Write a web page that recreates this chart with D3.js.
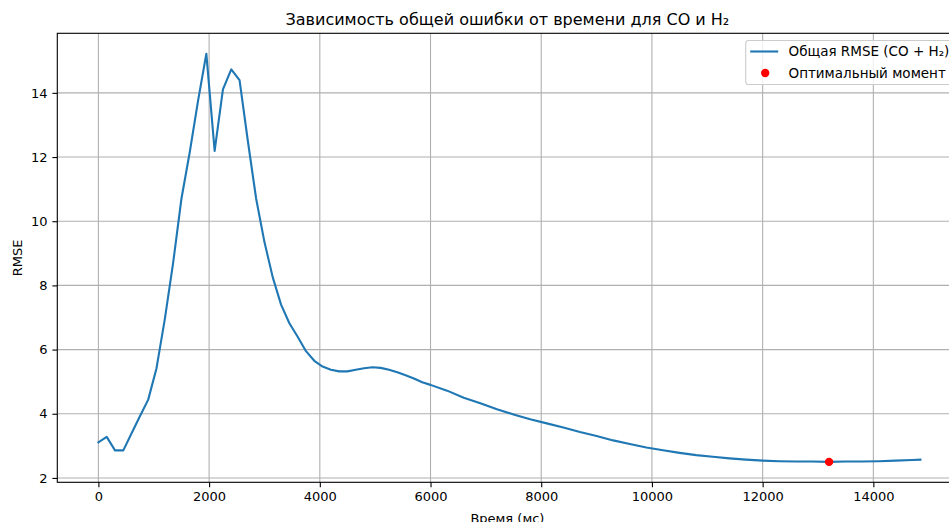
<!DOCTYPE html>
<html><head><meta charset="utf-8">
<script src="https://cdn.jsdelivr.net/npm/d3@7"></script>
<style>
html,body{margin:0;padding:0;background:#fff;overflow:hidden;}
svg{display:block;font-family:"DejaVu Sans",sans-serif;}
</style></head>
<body><svg id="chart" width="949" height="522"></svg>
<script>
const titleText = "Зависимость общей ошибки от времени для CO и H₂";
const xLabel = "Время (мс)";
const yLabel = "RMSE";
const lineLabel = "Общая RMSE (CO + H₂)";
const pointLabel = "Оптимальный момент";

const timeMs = [0,150,300,450,600,750,900,1050,1200,1350,1500,1650,1800,1950,2100,2250,2400,2550,2700,2850,3000,3150,3300,3450,3600,3750,3900,4050,4200,4350,4500,4650,4800,4950,5100,5250,5400,5550,5700,5850,6000,6300,6600,6900,7200,7500,7800,8100,8400,8700,9000,9300,9600,9900,10200,10500,10800,11100,11400,11700,12000,12300,12600,12900,13200,13500,13800,14100,14400,14700,14850];
const rmse = [3.11,3.28,2.86,2.86,3.39,3.92,4.44,5.42,6.95,8.7,10.7,12.15,13.75,15.22,12.19,14.11,14.73,14.40,12.5,10.7,9.35,8.25,7.4,6.82,6.4,5.95,5.65,5.47,5.37,5.32,5.32,5.37,5.42,5.45,5.43,5.37,5.29,5.2,5.1,4.98,4.9,4.72,4.5,4.33,4.14,3.98,3.83,3.7,3.57,3.43,3.31,3.17,3.06,2.95,2.86,2.78,2.71,2.66,2.61,2.57,2.54,2.52,2.51,2.51,2.5,2.51,2.51,2.52,2.54,2.56,2.57];
const optTime = [13200];
const optRmse = [2.50];
const xTicks = [0,2000,4000,6000,8000,10000,12000,14000];
const yTicks = [2,4,6,8,10,12,14];

const svg = d3.select("#chart");
const L = 57.3, R = 961.5, T = 33.3, B = 482.3;
const FS = "13px";

const xExt = d3.extent(timeMs), xPad = (xExt[1]-xExt[0])*0.05;
const yExt = d3.extent(rmse), yPad = (yExt[1]-yExt[0])*0.05;
const x = d3.scaleLinear().domain([xExt[0]-xPad, xExt[1]+xPad]).range([L, R]);
const y = d3.scaleLinear().domain([yExt[0]-yPad, yExt[1]+yPad]).range([B, T]);

// grid
const grid = svg.append("g");
grid.selectAll(".gx").data(xTicks).join("line")
  .attr("x1", d=>x(d)).attr("x2", d=>x(d)).attr("y1", T).attr("y2", B)
  .attr("stroke", "#b0b0b0").attr("stroke-width", 1.1);
grid.selectAll(".gy").data(yTicks).join("line")
  .attr("x1", L).attr("x2", R).attr("y1", d=>y(d)).attr("y2", d=>y(d))
  .attr("stroke", "#b0b0b0").attr("stroke-width", 1.1);

// data line
const line = d3.line().x((d,i)=>x(timeMs[i])).y(d=>y(d));
svg.append("path").datum(rmse).attr("d", line)
  .attr("fill","none").attr("stroke","#1f77b4").attr("stroke-width",2.1)
  .attr("stroke-linejoin","round").attr("stroke-linecap","square");

// optimal point
svg.selectAll(".opt").data(optTime).join("circle")
  .attr("cx", d=>x(d)).attr("cy", (d,i)=>y(optRmse[i])).attr("r", 4.2).attr("fill", "red");

// axes
const xAxis = d3.axisBottom(x).tickValues(xTicks).tickFormat(d3.format("d")).tickSize(4.9).tickPadding(4.9);
const yAxis = d3.axisLeft(y).tickValues(yTicks).tickFormat(d3.format("d")).tickSize(4.9).tickPadding(4.9);
const gx = svg.append("g").attr("transform", `translate(0,${B})`).call(xAxis);
const gy = svg.append("g").attr("transform", `translate(${L},0)`).call(yAxis);
[gx, gy].forEach(g => {
  g.select(".domain").remove();
  g.selectAll(".tick line").attr("stroke","#000").attr("stroke-width",1.1);
  g.selectAll(".tick text").attr("fill","#000").attr("font-size",FS).attr("font-family","DejaVu Sans");
});
// spines
svg.append("rect").attr("x", L).attr("y", T).attr("width", R-L).attr("height", B-T)
  .attr("fill","none").attr("stroke","#000").attr("stroke-width",1.1);

// labels
svg.append("text").attr("x", (L+R)/2 - 2).attr("y", 25).attr("text-anchor","middle")
  .attr("font-size","16px").attr("fill","#000").text(titleText);
svg.append("text").attr("x", (L+R)/2 - 2).attr("y", 523).attr("text-anchor","middle")
  .attr("font-size",FS).attr("fill","#000").text(xLabel);
svg.append("text").attr("transform", `translate(22,${(T+B)/2}) rotate(-90)`).attr("text-anchor","middle")
  .attr("font-size",FS).attr("fill","#000").text(yLabel);

// legend
const lg = svg.append("g");
const lx = 745.7, ly = 40.5;
lg.append("rect").attr("x", lx).attr("y", ly).attr("width", R-6.9-lx).attr("height", 44)
  .attr("rx", 2.8).attr("fill","#fff").attr("fill-opacity",0.8).attr("stroke","#cccccc").attr("stroke-width",1.1);
lg.append("line").attr("x1", lx+4.5).attr("x2", lx+32.5).attr("y1", 51.5).attr("y2", 51.5)
  .attr("stroke","#1f77b4").attr("stroke-width",2.1);
lg.append("circle").attr("cx", lx+19.5).attr("cy", 73).attr("r", 4.2).attr("fill","red");
lg.append("text").attr("x", 788.5).attr("y", 56).attr("font-size","13.5px").attr("fill","#000").text(lineLabel);
lg.append("text").attr("x", 788.5).attr("y", 77.5).attr("font-size","13.5px").attr("fill","#000").text(pointLabel);
</script></body></html>
